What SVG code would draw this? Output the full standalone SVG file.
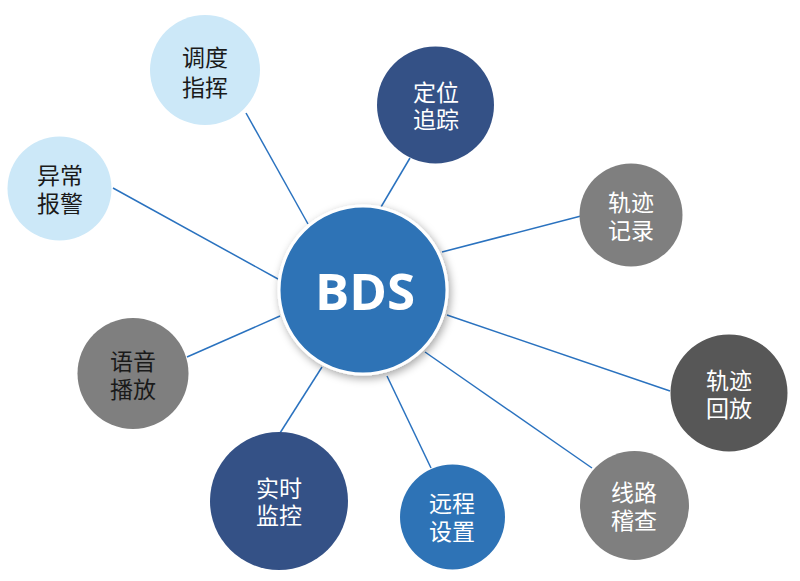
<svg xmlns="http://www.w3.org/2000/svg" width="800" height="581" viewBox="0 0 800 581">
<defs>
<filter id="sh" x="-20%" y="-20%" width="140%" height="140%">
<feDropShadow dx="2" dy="3" stdDeviation="4" flood-color="#000" flood-opacity="0.35"/>
</filter>
</defs>
<style>
.ln{stroke:#2a72bf;stroke-width:1.5;fill:none}
.t{font-family:"Liberation Sans","Noto Sans CJK SC",sans-serif;font-size:23px;text-anchor:middle}
.w{fill:#ffffff}
.k{fill:#1a1a1a}
.lb{fill:#cce8f8}
.nv{fill:#345186}
.bl{fill:#2e73b6}
.gr{fill:#7f7f7f}
.dg{fill:#575757}
</style>
<rect width="800" height="581" fill="#ffffff"/>
<g id="connectors">
<line class="ln" x1="308" y1="224" x2="246" y2="113"/>
<line class="ln" x1="381" y1="207" x2="410" y2="158"/>
<line class="ln" x1="278" y1="279" x2="113" y2="188"/>
<line class="ln" x1="442" y1="252" x2="581" y2="216"/>
<line class="ln" x1="280" y1="316" x2="187" y2="357"/>
<line class="ln" x1="447" y1="315" x2="670" y2="391"/>
<line class="ln" x1="322" y1="367" x2="280" y2="433"/>
<line class="ln" x1="387" y1="376" x2="431" y2="468"/>
<line class="ln" x1="425" y1="352" x2="592" y2="468"/>
</g>
<g id="node-ddzh">
<circle class="lb" cx="205" cy="70" r="55"/>
<text class="t k" x="205" y="66">调度</text>
<text class="t k" x="205" y="96">指挥</text>
</g>
<g id="node-dwzz">
<circle class="nv" cx="435.5" cy="105" r="58.5"/>
<text class="t w" x="436" y="101">定位</text>
<text class="t w" x="436" y="128">追踪</text>
</g>
<g id="node-ycbj">
<circle class="lb" cx="59.5" cy="188.5" r="52"/>
<text class="t k" x="60" y="184">异常</text>
<text class="t k" x="60" y="212">报警</text>
</g>
<g id="node-gjjl">
<circle class="gr" cx="631" cy="215" r="51.5"/>
<text class="t w" x="631" y="211">轨迹</text>
<text class="t w" x="631" y="239">记录</text>
</g>
<g id="node-yybf">
<circle class="gr" cx="133" cy="373.5" r="55.5"/>
<text class="t k" x="133" y="370">语音</text>
<text class="t k" x="133" y="398">播放</text>
</g>
<g id="node-gjhf">
<circle class="dg" cx="729" cy="393" r="58.5"/>
<text class="t w" x="729" y="389">轨迹</text>
<text class="t w" x="729" y="417">回放</text>
</g>
<g id="node-ssjk">
<circle class="nv" cx="279" cy="501" r="69"/>
<text class="t w" x="279" y="497">实时</text>
<text class="t w" x="279" y="524">监控</text>
</g>
<g id="node-ycsz">
<circle class="bl" cx="452.5" cy="517" r="52.5"/>
<text class="t w" x="452" y="512">远程</text>
<text class="t w" x="452" y="540">设置</text>
</g>
<g id="node-xljc">
<circle class="gr" cx="634.5" cy="505.5" r="54.5"/>
<text class="t w" x="634" y="501">线路</text>
<text class="t w" x="634" y="529">稽查</text>
</g>
<g id="node-bds">
<circle cx="363" cy="290" r="84" fill="#2e73b6" stroke="#ffffff" stroke-width="3" filter="url(#sh)"/>
<text x="365" y="310" fill="#ffffff" font-family="'Open Sans','Noto Sans',sans-serif" font-weight="700" font-size="51" text-anchor="middle">BDS</text>
</g>
</svg>
